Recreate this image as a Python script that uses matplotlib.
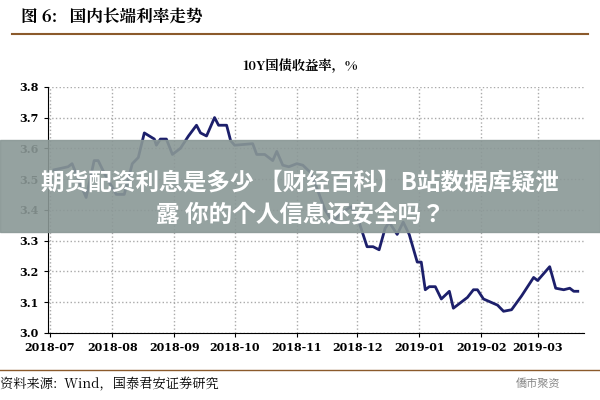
import matplotlib
matplotlib.use("Agg")
import matplotlib.pyplot as plt
import pandas as pd

SANS = "Noto Sans CJK JP"
SERIF = "Noto Serif CJK JP"
plt.rcParams["font.family"] = [SANS, "DejaVu Sans"]

dates = ["2018-07-03","2018-07-10","2018-07-12","2018-07-17","2018-07-19","2018-07-23","2018-07-25","2018-07-28",
         "2018-08-03","2018-08-07","2018-08-11","2018-08-14","2018-08-17","2018-08-22","2018-08-23","2018-08-25",
         "2018-08-28","2018-08-31","2018-09-04","2018-09-08","2018-09-12","2018-09-14","2018-09-17","2018-09-21",
         "2018-09-23","2018-09-27","2018-09-29","2018-10-01","2018-10-10","2018-10-12","2018-10-16","2018-10-20",
         "2018-10-22","2018-10-25","2018-10-28","2018-11-01","2018-11-04","2018-11-08","2018-11-11","2018-11-15",
         "2018-11-19","2018-11-23","2018-11-28","2018-12-01","2018-12-06","2018-12-09","2018-12-12","2018-12-15",
         "2018-12-17","2018-12-21","2018-12-24","2018-12-27","2018-12-31","2019-01-02","2019-01-04","2019-01-06",
         "2019-01-09","2019-01-12","2019-01-16","2019-01-18","2019-01-22","2019-01-25","2019-01-28","2019-01-30",
         "2019-02-02","2019-02-09","2019-02-12","2019-02-16","2019-02-21","2019-02-27","2019-03-01","2019-03-07",
         "2019-03-10","2019-03-14","2019-03-17","2019-03-19","2019-03-21"]
values = [3.53,3.54,3.55,3.47,3.44,3.56,3.56,3.52,
          3.45,3.45,3.55,3.57,3.65,3.63,3.61,3.63,
          3.63,3.58,3.60,3.64,3.675,3.65,3.64,3.70,
          3.675,3.675,3.625,3.61,3.615,3.58,3.58,3.56,
          3.59,3.545,3.54,3.55,3.545,3.52,3.47,3.40,
          3.36,3.39,3.41,3.38,3.28,3.28,3.27,3.34,
          3.36,3.32,3.36,3.32,3.23,3.23,3.14,3.15,
          3.15,3.11,3.135,3.08,3.10,3.115,3.14,3.14,
          3.11,3.09,3.07,3.075,3.12,3.18,3.17,3.215,
          3.145,3.14,3.145,3.135,3.135]
tick_dates = ["2018-07","2018-08","2018-09","2018-10","2018-11","2018-12","2019-01","2019-02","2019-03"]
y_ticks = [3.0,3.1,3.2,3.3,3.4,3.5,3.6,3.7,3.8]

fig = plt.figure(figsize=(6,4), dpi=100)
ax = fig.add_axes([0.08, 0.168, 0.893, 0.615])
x = pd.to_datetime(dates)
ax.plot(x, values, color="#1c1f6b", lw=2)
ax.set_ylim(3.0, 3.8)
ax.set_yticks(y_ticks)
ax.set_yticklabels([f"{v:.1f}" for v in y_ticks], fontsize=8, fontweight="bold", family="DejaVu Serif")
tx = pd.to_datetime([t + "-01" for t in tick_dates])
ax.set_xticks(tx)
ax.set_xticklabels(tick_dates, fontsize=8, fontweight="bold", family="DejaVu Serif")
ax.set_xlim(pd.Timestamp("2018-06-30"), pd.Timestamp("2019-03-24"))
ax.grid(True, color="#aaaaaa", ls=":", lw=1)
for s in ["top","right"]:
    ax.spines[s].set_visible(False)
ax.tick_params(length=3)
fig.text(0.5, 0.825, "10Y国债收益率，%", ha="center", fontsize=9.5, fontweight="bold", family=SERIF)
fig.text(0.035, 0.955, "图 6:   国内长端利率走势", fontsize=12, fontweight="bold", va="center", family=SERIF)
fig.add_artist(plt.Line2D([0.02, 0.98], [0.915, 0.915], color="#8b5a2b", lw=1.5))
fig.add_artist(plt.Line2D([0.0, 1.0], [0.075, 0.075], color="#8b5a2b", lw=1))
fig.text(0.0, 0.04, "资料来源:  Wind，国泰君安证券研究", fontsize=9.5, va="center", family=SERIF)
fig.text(0.86, 0.04, "僑市聚资", fontsize=8, color="#888888", va="center")
fig.add_artist(plt.Rectangle((0, 0.42), 1, 0.23, transform=fig.transFigure, color="#8a9896", alpha=0.9))
fig.text(0.5, 0.5425, "期货配资利息是多少 【财经百科】B站数据库疑泄", ha="center", va="center", fontsize=17, fontweight="bold", color="white")
fig.text(0.5, 0.465, "露 你的个人信息还安全吗？", ha="center", va="center", fontsize=17, fontweight="bold", color="white")
fig.savefig("out.png", dpi=100)
